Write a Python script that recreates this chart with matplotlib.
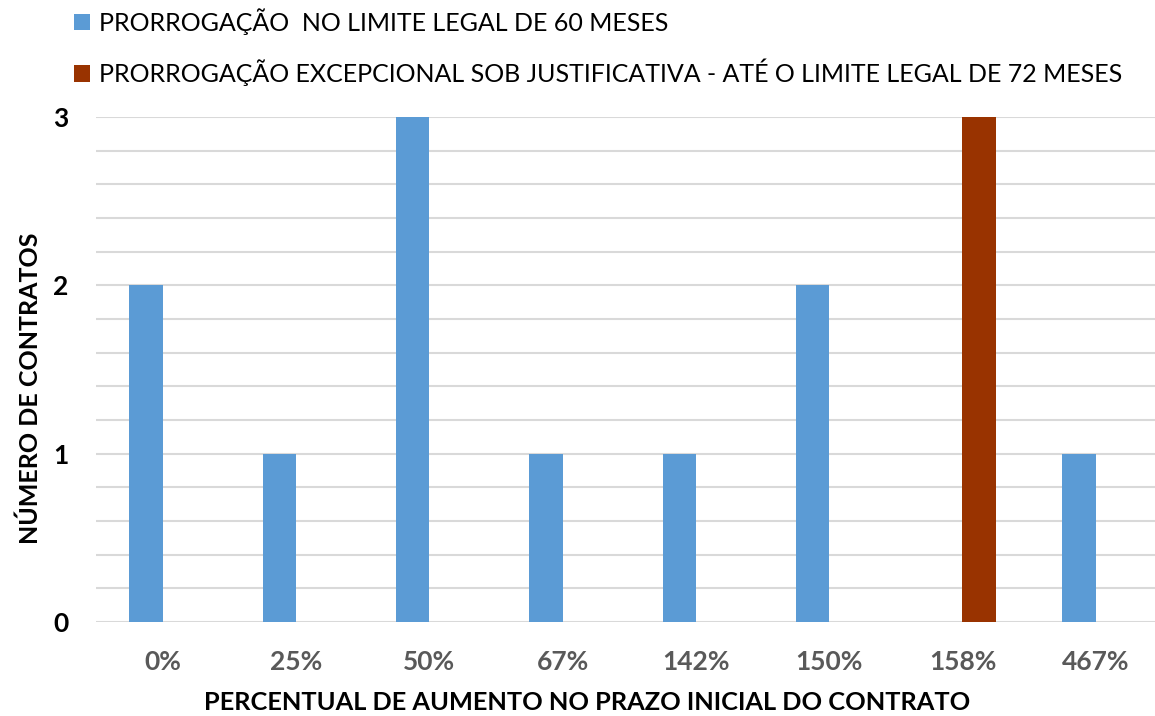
import numpy as np
import matplotlib
matplotlib.use('Agg')
import matplotlib.pyplot as plt
from matplotlib.ticker import MultipleLocator

# Dados
categorias = ['0%', '25%', '50%', '67%', '142%', '150%', '158%', '467%']
prazo_60 = [2, 1, 3, 1, 1, 2, 0, 1]
prazo_72 = [0, 0, 0, 0, 0, 0, 3, 0]
legenda = ['PRORROGAÇÃO  NO LIMITE LEGAL DE 60 MESES',
           'PRORROGAÇÃO EXCEPCIONAL SOB JUSTIFICATIVA - ATÉ O LIMITE LEGAL DE 72 MESES']

plt.rcParams['font.family'] = ['Lato', 'DejaVu Sans']

fig = plt.figure(figsize=(11.55, 7.16), dpi=100)
ax = fig.add_axes([96 / 1155, 94 / 716, 1 - 96 / 1155, 505 / 716])

x = np.arange(len(categorias))
w = 0.25
b1 = ax.bar(x - w / 2, prazo_60, w, color='#5B9BD5', label=legenda[0], zorder=3)
b2 = ax.bar(x + w / 2, prazo_72, w, color='#993300', label=legenda[1], zorder=3)

ax.set_xlim(-0.5, -0.5 + 1059 / 133.3)
ax.set_ylim(0, 3)
ax.yaxis.set_major_locator(MultipleLocator(1))
ax.yaxis.set_minor_locator(MultipleLocator(0.2))
ax.grid(axis='y', which='both', color='#D9D9D9', linewidth=1.5, zorder=0)
ax.set_axisbelow(True)
for s in ax.spines.values():
    s.set_visible(False)
ax.tick_params(axis='both', which='both', length=0)
ax.set_xticks(x)
ax.set_xticklabels(categorias, fontsize=19, fontweight='bold', color='#595959')
ax.tick_params(axis='x', pad=20)
ax.tick_params(axis='y', pad=20)
for t in ax.get_yticklabels():
    t.set_fontsize(19)
    t.set_fontweight('bold')
    t.set_color('black')

fig.text(587 / 1155, 1 - 703 / 716, 'PERCENTUAL DE AUMENTO NO PRAZO INICIAL DO CONTRATO',
         ha='center', va='center', fontsize=18.3, fontweight='bold')
fig.text(30 / 1155, 1 - 388 / 716, 'NÚMERO DE CONTRATOS', rotation=90,
         ha='center', va='center', fontsize=18, fontweight='bold')

fig.legend(handles=[b1, b2], loc='upper left', bbox_to_anchor=(64 / 1155, 1 + 2 / 716),
           frameon=False, fontsize=18, handlelength=0.65, handleheight=0.65,
           handletextpad=0.35, labelspacing=0.95, borderaxespad=0)

fig.savefig('out.png', dpi=100)
